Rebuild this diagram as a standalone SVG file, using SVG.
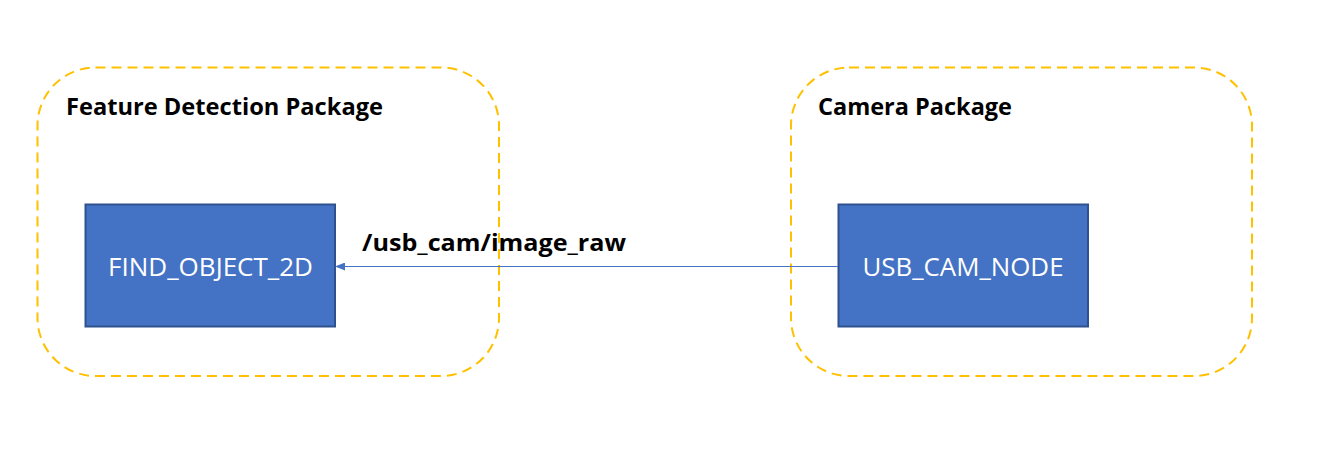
<svg xmlns="http://www.w3.org/2000/svg" width="1336" height="465" viewBox="0 0 1336 465">
<style>
.pkg{fill:none;stroke:#FFC000;stroke-width:2;stroke-dasharray:10 6}
.node{fill:#4472C4;stroke:#2F528F;stroke-width:2}
.title{font-family:"Open Sans","Liberation Sans",sans-serif;font-weight:bold;font-size:23.5px;fill:#000}
.lbl{font-family:"Open Sans","Liberation Sans",sans-serif;font-size:25px;fill:#fff;text-anchor:middle}
.edge{stroke:#4472C4;stroke-width:1.2;fill:none}
</style>
<defs>
<marker id="arr" markerWidth="10" markerHeight="8" refX="9" refY="4" orient="auto" markerUnits="userSpaceOnUse">
<path d="M0,0 L10,4 L0,8 Z" fill="#4472C4"/>
</marker>
</defs>
<rect width="1336" height="465" fill="#fff"/>
<g id="pkg-feature">
<rect class="pkg" x="37.5" y="67.5" width="461.5" height="308.5" rx="58" ry="58"/>
<text class="title" x="66" y="115" textLength="317" lengthAdjust="spacingAndGlyphs">Feature Detection Package</text>
</g>
<g id="pkg-camera">
<rect class="pkg" x="791" y="67.5" width="461" height="308.5" rx="58" ry="58"/>
<text class="title" x="818" y="115" textLength="194" lengthAdjust="spacingAndGlyphs">Camera Package</text>
</g>
<g id="node-find">
<rect class="node" x="85.5" y="204.5" width="249.5" height="122"/>
<text class="lbl" x="210.5" y="276" textLength="205" lengthAdjust="spacingAndGlyphs">FIND_OBJECT_2D</text>
</g>
<g id="node-usb">
<rect class="node" x="838.5" y="204.5" width="249.5" height="122"/>
<text class="lbl" x="963" y="276" textLength="201" lengthAdjust="spacingAndGlyphs">USB_CAM_NODE</text>
</g>
<g id="connectors">
<line class="edge" x1="838" y1="266.5" x2="336" y2="266.5" marker-end="url(#arr)"/>
<text class="title" x="362" y="251" textLength="264" lengthAdjust="spacingAndGlyphs">/usb_cam/image_raw</text>
</g>
</svg>
